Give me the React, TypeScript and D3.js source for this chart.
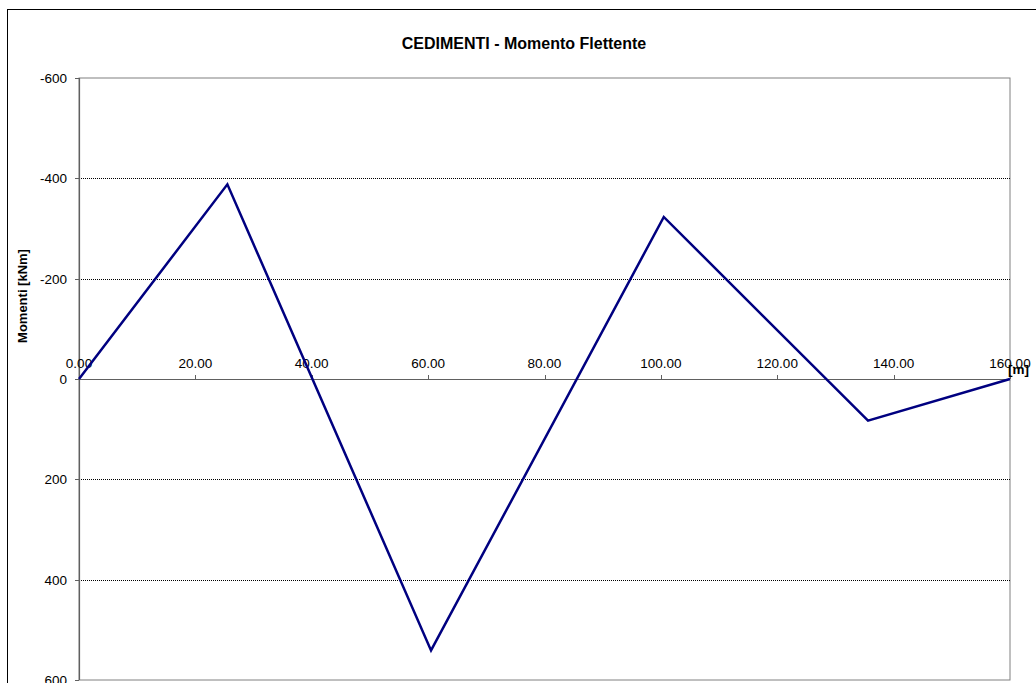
import React from "react";
import * as d3 from "d3";

const positions: number[] = [0, 25.5, 60.5, 100.5, 135.6, 160];
const moments: number[] = [0, -388, 541, -323, 83, 0];
const xTicks: number[] = [0, 20, 40, 60, 80, 100, 120, 140, 160];
const yTicks: number[] = [-600, -400, -200, 0, 200, 400, 600];
const gridValues: number[] = [-400, -200, 200, 400];

const W = 1036;
const H = 683;
const plot = { left: 79, right: 1010, top: 78, bottom: 680 };
const font = "'Liberation Sans', Arial, sans-serif";

export default function App() {
  const x = d3.scaleLinear().domain([0, 160]).range([plot.left, plot.right]);
  const y = d3.scaleLinear().domain([-600, 600]).range([plot.top, plot.bottom]);
  const pts: [number, number][] = positions.map((p, i) => [p, moments[i]]);
  const line = d3
    .line<[number, number]>()
    .x((d) => x(d[0]))
    .y((d) => y(d[1]));
  const y0 = y(0);

  return (
    <svg
      width={W}
      height={H}
      style={{ position: "absolute", left: 0, top: 0, background: "#fff" }}
      fontFamily={font}
    >
      <rect x={0} y={0} width={W} height={H} fill="#fff" />
      <rect x={7.5} y={9.5} width={W + 20} height={H + 20} fill="none" stroke="#000" strokeWidth={1} />
      <text x={524} y={49} textAnchor="middle" fontSize={16} fontWeight="bold" fill="#000">
        CEDIMENTI - Momento Flettente
      </text>
      {/* plot border */}
      <rect
        x={plot.left}
        y={plot.top}
        width={plot.right - plot.left}
        height={plot.bottom - plot.top}
        fill="none"
        stroke="#808080"
        strokeWidth={1}
      />
      {gridValues.map((v) => (
        <line
          key={v}
          x1={plot.left}
          x2={plot.right}
          y1={Math.round(y(v)) + 0.5}
          y2={Math.round(y(v)) + 0.5}
          stroke="#000"
          strokeWidth={1}
          strokeDasharray="1,1"
        />
      ))}
      {/* y axis */}
      <line x1={plot.left + 0.5} x2={plot.left + 0.5} y1={plot.top} y2={plot.bottom} stroke="#606060" strokeWidth={1.2} />
      {yTicks.map((v) => (
        <g key={v}>
          <line
            x1={plot.left - 4}
            x2={plot.left}
            y1={Math.round(y(v)) + 0.5}
            y2={Math.round(y(v)) + 0.5}
            stroke="#606060"
          />
          <text x={67} y={y(v) + 5} textAnchor="end" fontSize={13.5} fill="#000">
            {v}
          </text>
        </g>
      ))}
      {/* x axis at zero */}
      <line x1={plot.left} x2={plot.right} y1={Math.round(y0) + 0.5} y2={Math.round(y0) + 0.5} stroke="#606060" strokeWidth={1.2} />
      {xTicks.map((v) => (
        <g key={v}>
          <line
            x1={Math.round(x(v)) + 0.5}
            x2={Math.round(x(v)) + 0.5}
            y1={y0 - 4}
            y2={y0}
            stroke="#606060"
          />
          <text x={x(v)} y={y0 - 11} textAnchor="middle" fontSize={13.5} fill="#000">
            {v.toFixed(2)}
          </text>
        </g>
      ))}
      <text x={1008} y={374} fontSize={13.5} fontWeight="bold" fill="#000">
        [m]
      </text>
      <text
        transform={`translate(27, 296) rotate(-90)`}
        textAnchor="middle"
        fontSize={13}
        fontWeight="bold"
        fill="#000"
      >
        Momenti [kNm]
      </text>
      <path d={line(pts) || ""} fill="none" stroke="#000080" strokeWidth={2.5} strokeLinejoin="miter" />
    </svg>
  );
}
